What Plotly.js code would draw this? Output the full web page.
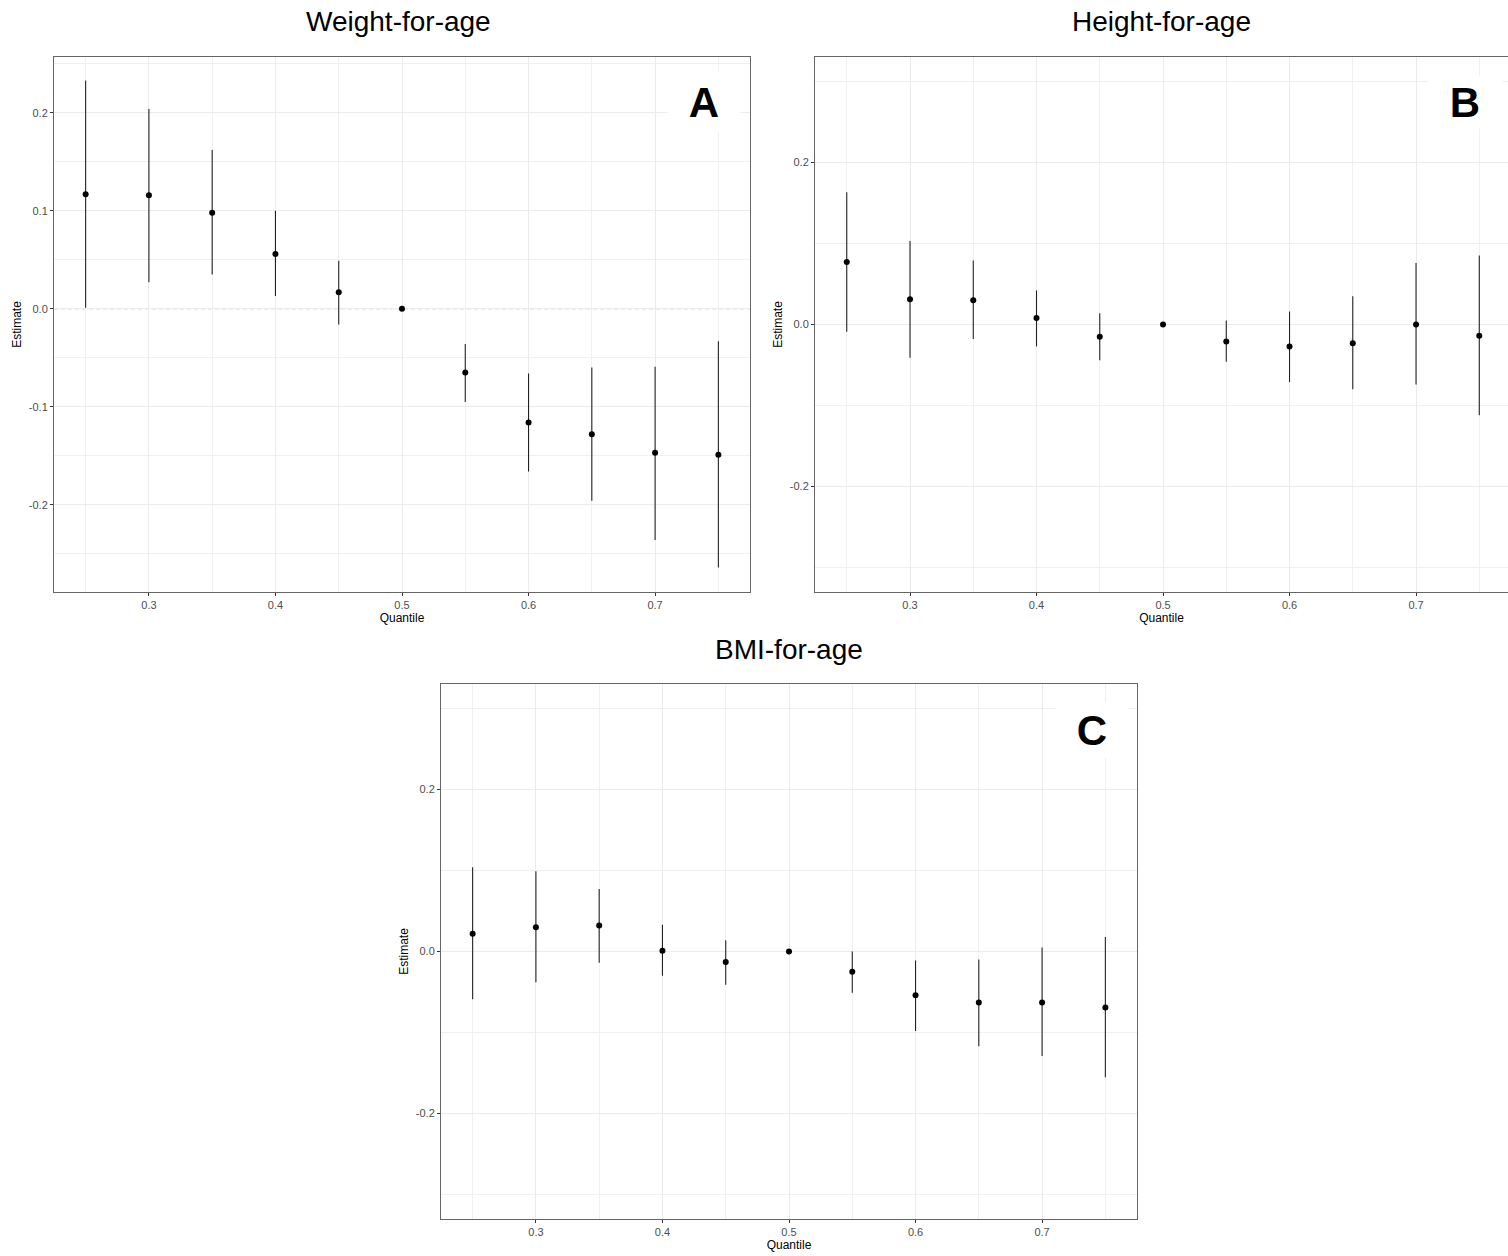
<!DOCTYPE html>
<html>
<head>
<meta charset="utf-8">
<script src="https://cdn.plot.ly/plotly-3.0.1.min.js"></script>
<style>html,body{margin:0;padding:0;background:#fff;}#chart{width:1508px;height:1256px;}</style>
</head>
<body>
<div id="chart"></div>
<script>
// ---- data ----
const quantiles = [0.25, 0.3, 0.35, 0.4, 0.45, 0.5, 0.55, 0.6, 0.65, 0.7, 0.75];

const panelTitles = ["Weight-for-age", "Height-for-age", "BMI-for-age"];
const panelLetters = ["A", "B", "C"];

const weightEst   = [0.117, 0.116, 0.098, 0.056, 0.017, 0, -0.065, -0.116, -0.128, -0.147, -0.149];
const weightLower = [0.001, 0.027, 0.035, 0.013, -0.016, 0, -0.095, -0.166, -0.196, -0.236, -0.264];
const weightUpper = [0.233, 0.204, 0.162, 0.100, 0.049, 0, -0.036, -0.066, -0.060, -0.059, -0.033];

const heightEst   = [0.077, 0.031, 0.030, 0.008, -0.015, 0, -0.021, -0.027, -0.023, 0.000, -0.014];
const heightLower = [-0.009, -0.041, -0.018, -0.027, -0.044, 0, -0.046, -0.071, -0.080, -0.074, -0.112];
const heightUpper = [0.163, 0.103, 0.079, 0.042, 0.014, 0, 0.005, 0.016, 0.035, 0.076, 0.085];

const bmiEst   = [0.022, 0.030, 0.032, 0.001, -0.013, 0, -0.025, -0.054, -0.063, -0.063, -0.069];
const bmiLower = [-0.059, -0.038, -0.014, -0.030, -0.041, 0, -0.051, -0.098, -0.117, -0.129, -0.155];
const bmiUpper = [0.104, 0.099, 0.077, 0.033, 0.014, 0, 0.000, -0.011, -0.010, 0.005, 0.018];

const xTickVals = [0.3, 0.4, 0.5, 0.6, 0.7];
const xTickText = ["0.3", "0.4", "0.5", "0.6", "0.7"];
const xMinorVals = [0.25, 0.35, 0.45, 0.55, 0.65, 0.75];

const yTickValsA = [-0.2, -0.1, 0, 0.1, 0.2];
const yTickTextA = ["-0.2", "-0.1", "0.0", "0.1", "0.2"];
const yMinorValsA = [-0.25, -0.15, -0.05, 0.05, 0.15, 0.25];

const yTickValsBC = [-0.2, 0, 0.2];
const yTickTextBC = ["-0.2", "0.0", "0.2"];
const yMinorValsBC = [-0.3, -0.1, 0.1, 0.3];

const xAxisLabel = "Quantile";
const yAxisLabel = "Estimate";

// ---- build ----
const FONT = "Liberation Sans, Arial, sans-serif";
const W = 1508, H = 1256;

function trace(est, lo, hi, xa, ya) {
  return {
    type: "scatter", mode: "markers",
    x: quantiles, y: est, xaxis: xa, yaxis: ya,
    marker: {color: "#000000", size: 6},
    error_y: {
      type: "data", symmetric: false,
      array: hi.map((v, i) => v - est[i]),
      arrayminus: est.map((v, i) => v - lo[i]),
      width: 0, thickness: 1.1, color: "#222222"
    },
    hoverinfo: "x+y", showlegend: false
  };
}

const data = [
  trace(weightEst, weightLower, weightUpper, "x", "y"),
  trace(heightEst, heightLower, heightUpper, "x2", "y2"),
  trace(bmiEst, bmiLower, bmiUpper, "x3", "y3")
];

function px(l, r) { return [l / W, r / W]; }
function py(t, b) { return [1 - b / H, 1 - t / H]; }

function xaxis(domain, range, anchor, mirror) {
  return {
    domain: domain, range: range, anchor: anchor,
    tickmode: "array", tickvals: xTickVals, ticktext: xTickText,
    ticks: "outside", ticklen: 3, tickwidth: 1, tickcolor: "#333333",
    tickfont: {family: FONT, size: 11, color: "#4D4D4D"},
    showgrid: true, gridcolor: "#EBEBEB", gridwidth: 1,
    minor: {tickmode: "array", tickvals: xMinorVals, showgrid: true, gridcolor: "#F0F0F0", gridwidth: 1, ticks: ""},
    zeroline: false, showline: true, linecolor: "#666666", linewidth: 1, mirror: mirror,
    title: {text: xAxisLabel, font: {family: FONT, size: 12, color: "#000000"}, standoff: 2},
    automargin: false, fixedrange: true
  };
}
function yaxis(domain, range, anchor, tv, tt, mv, mirror) {
  return {
    domain: domain, range: range, anchor: anchor,
    tickmode: "array", tickvals: tv, ticktext: tt,
    ticks: "outside", ticklen: 3, tickwidth: 1, tickcolor: "#333333",
    tickfont: {family: FONT, size: 11, color: "#4D4D4D"},
    showgrid: true, gridcolor: "#EBEBEB", gridwidth: 1,
    minor: {tickmode: "array", tickvals: mv, showgrid: true, gridcolor: "#F0F0F0", gridwidth: 1, ticks: ""},
    zeroline: false, showline: true, linecolor: "#666666", linewidth: 1, mirror: mirror,
    title: {text: yAxisLabel, font: {family: FONT, size: 12, color: "#000000"}, standoff: 4},
    automargin: false, fixedrange: true
  };
}

function zeroDash(xr, yr) {
  return {type: "line", xref: xr + " domain", yref: yr, x0: 0, x1: 1, y0: 0, y1: 0,
          line: {color: "#C0C0C0", width: 1, dash: "4px,3px"}, layer: "below"};
}

function titleAnn(text, cx, cy) {
  return {text: text, xref: "paper", yref: "paper", x: cx / W, y: 1 - cy / H,
          xanchor: "center", yanchor: "middle", showarrow: false,
          font: {family: FONT, size: 28, color: "#000000"}};
}
function letterAnn(text, cx, cy, w, h) {
  return {text: "<b>" + text + "</b>", xref: "paper", yref: "paper", x: cx / W, y: 1 - cy / H,
          xanchor: "center", yanchor: "middle", showarrow: false,
          width: w, height: h, bgcolor: "#FFFFFF", borderpad: 0,
          font: {family: FONT, size: 42, color: "#000000"}};
}

const layout = {
  width: W, height: H,
  margin: {l: 0, r: 0, t: 0, b: 0},
  paper_bgcolor: "#FFFFFF", plot_bgcolor: "#FFFFFF",
  showlegend: false,
  xaxis:  xaxis(px(54, 750), [0.225, 0.775], "y", true),
  yaxis:  yaxis(py(57, 592), [-0.289, 0.257], "x", yTickValsA, yTickTextA, yMinorValsA, true),
  xaxis2: xaxis(px(815, 1508), [0.2249, 0.7727], "y2", true),
  yaxis2: yaxis(py(57, 592), [-0.33, 0.33], "x2", yTickValsBC, yTickTextBC, yMinorValsBC, false),
  xaxis3: xaxis(px(441, 1137), [0.225, 0.775], "y3", true),
  yaxis3: yaxis(py(684, 1219), [-0.33, 0.33], "x3", yTickValsBC, yTickTextBC, yMinorValsBC, true),
  shapes: [zeroDash("x", "y"), zeroDash("x2", "y2"), zeroDash("x3", "y3")],
  annotations: [
    titleAnn(panelTitles[0], 398, 21),
    titleAnn(panelTitles[1], 1161, 21),
    titleAnn(panelTitles[2], 789, 649),
    letterAnn(panelLetters[0], 704, 102, 72, 60),
    letterAnn(panelLetters[1], 1465, 102, 74, 52),
    letterAnn(panelLetters[2], 1092, 730, 72, 54)
  ]
};

Plotly.newPlot("chart", data, layout, {displayModeBar: false, staticPlot: true});
</script>
</body>
</html>
